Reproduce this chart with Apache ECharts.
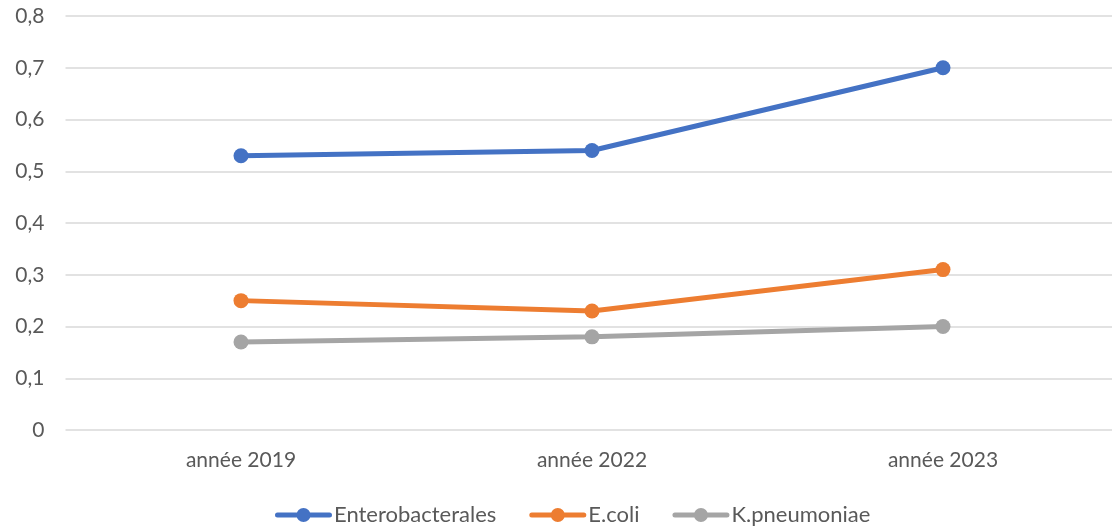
<!DOCTYPE html>
<html>
<head>
<meta charset="utf-8">
<script src="https://cdn.jsdelivr.net/npm/echarts@6/dist/echarts.min.js"></script>
<style>
  html, body { margin: 0; padding: 0; background: #fff; }
  #chart { width: 1112px; height: 526px; }
</style>
</head>
<body>
<div id="chart"></div>
<script>
// Categories and series values
const categories = ['année 2019', 'année 2022', 'année 2023'];
const enterobacterales = [0.53, 0.54, 0.70];
const ecoli = [0.25, 0.23, 0.31];
const kpneumoniae = [0.17, 0.18, 0.20];
const yTicks = [0, 0.1, 0.2, 0.3, 0.4, 0.5, 0.6, 0.7, 0.8];

const textColor = '#595959';
const font = 'Lato';
const fontSize = 21;

// Legend glyph: a thick line with rounded ends and a round marker in its middle
const legendIcon = 'path://M2.5,4.5L54.5,4.5A2.5,2.5 0 0,1 54.5,9.5L2.5,9.5A2.5,2.5 0 0,1 2.5,4.5Z' +
  'M21.5,7A7,7 0 1,1 35.5,7A7,7 0 1,1 21.5,7Z';

function lineSeries(name, data, color) {
  return {
    name: name,
    type: 'line',
    data: data,
    symbol: 'circle',
    symbolSize: 15,
    lineStyle: { width: 5, color: color },
    itemStyle: { color: color },
    emphasis: { disabled: true },
    animation: false
  };
}

const chart = echarts.init(document.getElementById('chart'), null, { renderer: 'canvas' });
chart.setOption({
  animation: false,
  grid: { left: 65.5, right: -6.5, top: 16, bottom: 96, containLabel: false, outerBoundsMode: 'none' },
  xAxis: {
    type: 'category',
    data: categories,
    boundaryGap: true,
    axisLine: { show: false },
    axisTick: { show: false },
    axisLabel: { color: textColor, fontFamily: font, fontSize: fontSize, margin: 20 }
  },
  yAxis: {
    type: 'value',
    min: yTicks[0],
    max: yTicks[yTicks.length - 1],
    interval: 0.1,
    axisLine: { show: false },
    axisTick: { show: false },
    axisLabel: {
      color: textColor, fontFamily: font, fontSize: fontSize, margin: 21,
      formatter: v => v.toFixed(1).replace('.', ',').replace(/^0,0$/, '0')
    },
    splitLine: { lineStyle: { color: '#D9D9D9', width: 1.5 } }
  },
  legend: {
    top: 499,
    left: 270,
    icon: legendIcon,
    itemWidth: 57,
    itemHeight: 14,
    itemGap: 33,
    textStyle: { color: textColor, fontFamily: font, fontSize: 22, padding: [0, 0, 0, -3] },
    data: ['Enterobacterales', 'E.coli', 'K.pneumoniae']
  },
  series: [
    lineSeries('Enterobacterales', enterobacterales, '#4472C4'),
    lineSeries('E.coli', ecoli, '#ED7D31'),
    lineSeries('K.pneumoniae', kpneumoniae, '#A5A5A5')
  ]
});
</script>
</body>
</html>
